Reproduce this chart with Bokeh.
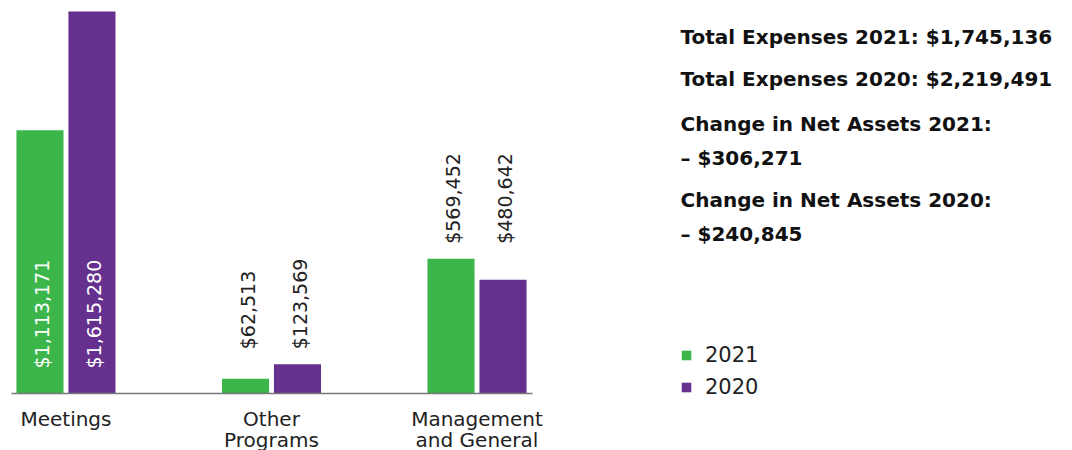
from bokeh.plotting import figure
from bokeh.models import ColumnDataSource, Range1d, FixedTicker, Label, Legend, LegendItem
from bokeh.layouts import row
from bokeh.transform import dodge
from bokeh.core.properties import value
from bokeh.embed import file_html
from bokeh.resources import INLINE
import math

categories = ["Meetings", "Other\nPrograms", "Management\nand General"]
years = ["2021", "2020"]
expenses_2021 = [1113171, 62513, 569452]
expenses_2020 = [1615280, 123569, 480642]
summary_lines = [
    "Total Expenses 2021: $1,745,136",
    "Total Expenses 2020: $2,219,491",
    "Change in Net Assets 2021:",
    "\u2013 $306,271",
    "Change in Net Assets 2020:",
    "\u2013 $240,845",
]

GREEN = "#3cb54a"
PURPLE = "#66308e"
FONT = "DejaVu Sans"

xs = list(range(len(categories)))
group_max = [max(a, b) for a, b in zip(expenses_2021, expenses_2020)]
inside = [m > 1_000_000 for m in group_max]

def fmt(v):
    return "${:,}".format(v)

src = ColumnDataSource(dict(
    x=xs,
    v21=expenses_2021,
    v20=expenses_2020,
    l21=[fmt(v) for v in expenses_2021],
    l20=[fmt(v) for v in expenses_2020],
    ly=[0 if i else m for i, m in zip(inside, group_max)],
    loff=[-25 if i else -15 for i in inside],
    lcol=["white" if i else "#222222" for i in inside],
))

RIGHT_PAD = 30
ymax = max(expenses_2020 + expenses_2021)
p = figure(frame_width=521, frame_height=393, output_backend="svg", toolbar_location=None,
           x_range=Range1d(-0.265, 2.27),
           y_range=Range1d(0, ymax * 393 / 382),
           min_border_left=11, min_border_right=RIGHT_PAD, min_border_top=0, min_border_bottom=0)
p.outline_line_color = None
p.grid.visible = False
p.yaxis.visible = False

bw = 0.229
r21 = p.vbar(x=dodge("x", -0.1265, range=p.x_range), top="v21", width=bw, bottom=0,
             source=src, fill_color=GREEN, line_color=None)
r20 = p.vbar(x=dodge("x", 0.1265, range=p.x_range), top="v20", width=bw, bottom=0,
             source=src, fill_color=PURPLE, line_color=None)

for off, col in [(-0.1265, "l21"), (0.1265, "l20")]:
    p.text(x=dodge("x", off + 0.01, range=p.x_range), y="ly", text=col, source=src,
           angle=math.pi / 2, text_align="left", text_baseline="middle",
           y_offset="loff", text_color="lcol", text_font=value(FONT),
           text_font_size="19px", text_font_style="normal")

ax = p.xaxis[0]
ax.ticker = FixedTicker(ticks=xs)
ax.major_label_overrides = {i: c for i, c in zip(xs, categories)}
ax.major_tick_line_color = None
ax.minor_tick_line_color = None
ax.axis_line_color = "#777777"
ax.axis_line_width = 1.5
ax.major_label_text_font = FONT
ax.major_label_text_font_size = "20px"
ax.major_label_text_color = "#222222"
ax.major_label_text_line_height = 0.9
ax.major_label_standoff = 7

# right panel: summary + legend
QW = 1072 - (11 + 521 + RIGHT_PAD)
q = figure(frame_width=QW, frame_height=450, output_backend="svg", toolbar_location=None,
           x_range=Range1d(100, 101), y_range=Range1d(ymax * 2, ymax * 3),
           min_border_left=0, min_border_right=0, min_border_top=0, min_border_bottom=0)
q.outline_line_color = None
q.grid.visible = False
q.axis.visible = False

# same series, placed outside this panel's view, only to feed the legend
lr21 = q.vbar(x="x", top="v21", width=bw, source=src, fill_color=GREEN, line_color=None)
lr20 = q.vbar(x="x", top="v20", width=bw, source=src, fill_color=PURPLE, line_color=None)
LX = 680 - (11 + 521 + RIGHT_PAD)
legend = Legend(items=[LegendItem(label=years[0], renderers=[lr21]),
                       LegendItem(label=years[1], renderers=[lr20])],
                location=(LX, 49), glyph_width=12, glyph_height=12,
                label_height=28, spacing=4, label_standoff=13,
                label_text_font=FONT, label_text_font_size="21px",
                label_text_color="#222222", border_line_color=None,
                background_fill_alpha=0, padding=0, margin=0)
q.add_layout(legend, "center")

ys = [36, 78, 123, 157, 199, 233]
for t, yy in zip(summary_lines, ys):
    q.add_layout(Label(x=LX, y=450 - yy, x_units="screen", y_units="screen", text=t,
                       text_font=FONT, text_font_size="20px", text_font_style="bold",
                       text_baseline="middle", text_align="left", text_color="#111111"))

layout = row(p, q, spacing=0)
open("out.html", "w").write(file_html(layout, INLINE))
